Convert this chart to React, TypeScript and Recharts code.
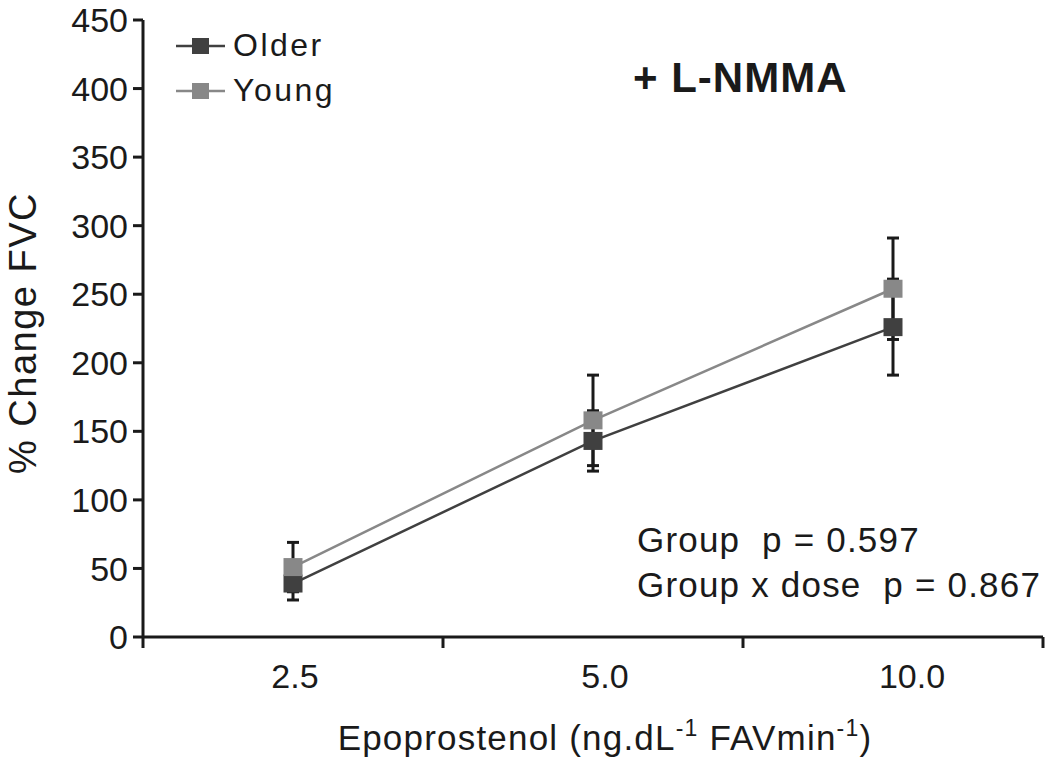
import React from 'react';
import { LineChart, Line, XAxis, YAxis, ErrorBar, Legend, Customized } from 'recharts';

const categories = ['2.5', '5.0', '10.0'];
const olderMean = [39, 143, 226];
const olderSem = [12, 22, 35];
const youngMean = [51, 158, 254];
const youngSem = [18, 33, 37];
const yTicks = [0, 50, 100, 150, 200, 250, 300, 350, 400, 450];
const xTickPositions = [0, 0.5, 1, 1.5, 2, 2.5, 3];

const FONT = '"Liberation Sans", Arial, Helvetica, sans-serif';
const INK = '#1a1a1a';
const OLDER_COLOR = '#404040';
const YOUNG_COLOR = '#888888';

const data = categories.map((c, i) => ({
  pos: i + 0.5,
  label: c,
  older: olderMean[i],
  olderErr: olderSem[i],
  young: youngMean[i],
  youngErr: youngSem[i],
}));

const labelShift = [2, 12, 19];

const XTick = (props: any) => {
  const { x, y, payload } = props;
  const v = payload.value;
  if (Number.isInteger(v)) {
    return <line x1={x} y1={y} x2={x} y2={y + 11} stroke={INK} strokeWidth={3} />;
  }
  const idx = Math.floor(v);
  return (
    <text x={x + (labelShift[idx] || 0)} y={y + 51} textAnchor="middle" fontFamily={FONT} fontSize={34} fill={INK}>
      {categories[idx]}
    </text>
  );
};

const squareDot = (color: string) => (props: any) => {
  const { cx, cy, index } = props;
  if (cx == null || cy == null) return <g key={`d-${index}`} />;
  return <rect key={`d-${index}`} x={cx - 9.5} y={cy - 9} width={19} height={18} fill={color} />;
};

const renderLegend = (props: any) => {
  const { payload } = props;
  return (
    <div style={{ fontFamily: FONT }}>
      {(payload || []).map((entry: any) => (
        <div key={entry.value} style={{ display: 'flex', alignItems: 'center', height: 45 }}>
          <svg width={50} height={20} style={{ display: 'block' }}>
            <line x1={0} y1={10} x2={49} y2={10} stroke={entry.color} strokeWidth={2.5} />
            <rect x={16} y={2} width={17} height={16} fill={entry.color} />
          </svg>
          <span style={{ fontSize: 32, letterSpacing: 2.5, color: INK, marginLeft: 7, lineHeight: '45px' }}>
            {entry.value}
          </span>
        </div>
      ))}
    </div>
  );
};

const Annotations = () => (
  <g fontFamily={FONT} fill={INK}>
    <text x={633} y={92} fontSize={42} fontWeight="bold" letterSpacing={1}>
      + L-NMMA
    </text>
    <text x={637} y={552} fontSize={35} letterSpacing={1.2} style={{ whiteSpace: 'pre' }}>
      {'Group  p = 0.597'}
    </text>
    <text x={637} y={597} fontSize={35} letterSpacing={1.2} style={{ whiteSpace: 'pre' }}>
      {'Group x dose  p = 0.867'}
    </text>
    <text x={605} y={750} fontSize={35} letterSpacing={1.2} textAnchor="middle">
      <tspan>Epoprostenol (ng.dL</tspan>
      <tspan fontSize={23} dy={-14}>-1</tspan>
      <tspan dy={14}> FAVmin</tspan>
      <tspan fontSize={23} dy={-14}>-1</tspan>
      <tspan dy={14}>)</tspan>
    </text>
    <text
      x={0}
      y={0}
      transform="translate(36, 333) rotate(-90)"
      textAnchor="middle"
      fontSize={38}
      letterSpacing={1.5}
    >
      % Change FVC
    </text>
  </g>
);

export default function App() {
  return (
    <div style={{ position: 'absolute', left: 0, top: 0, width: 1050, height: 761, background: '#fff' }}>
      <LineChart
        width={1050}
        height={761}
        data={data}
        margin={{ top: 20, right: 7, bottom: 0, left: 0 }}
      >
        <XAxis
          dataKey="pos"
          type="number"
          domain={[0, 3]}
          ticks={xTickPositions}
          interval={0}
          allowDecimals
          tickSize={0}
          tickMargin={0}
          tickLine={false}
          height={124}
          axisLine={{ stroke: INK, strokeWidth: 3 }}
          tick={<XTick />}
        />
        <YAxis
          type="number"
          domain={[0, 450]}
          ticks={yTicks}
          interval={0}
          width={143}
          tickSize={10}
          tickMargin={5}
          axisLine={{ stroke: INK, strokeWidth: 3 }}
          tickLine={{ stroke: INK, strokeWidth: 3 }}
          tick={{ fontFamily: FONT, fontSize: 34, fill: INK }}
        />
        <Legend
          layout="vertical"
          align="center"
          verticalAlign="middle"
          content={renderLegend}
          wrapperStyle={{ position: 'absolute', top: 23, left: 176, width: 'auto', right: 'auto', bottom: 'auto' }}
        />
        <Line
          name="Older"
          dataKey="older"
          stroke={OLDER_COLOR}
          strokeWidth={2.5}
          isAnimationActive={false}
          dot={squareDot(OLDER_COLOR)}
          activeDot={false}
        >
          <ErrorBar dataKey="olderErr" direction="y" width={6} stroke={INK} strokeWidth={3} isAnimationActive={false} />
        </Line>
        <Line
          name="Young"
          dataKey="young"
          stroke={YOUNG_COLOR}
          strokeWidth={2.5}
          isAnimationActive={false}
          dot={squareDot(YOUNG_COLOR)}
          activeDot={false}
        >
          <ErrorBar dataKey="youngErr" direction="y" width={6} stroke={INK} strokeWidth={3} isAnimationActive={false} />
        </Line>
        <Customized component={Annotations} />
      </LineChart>
    </div>
  );
}
